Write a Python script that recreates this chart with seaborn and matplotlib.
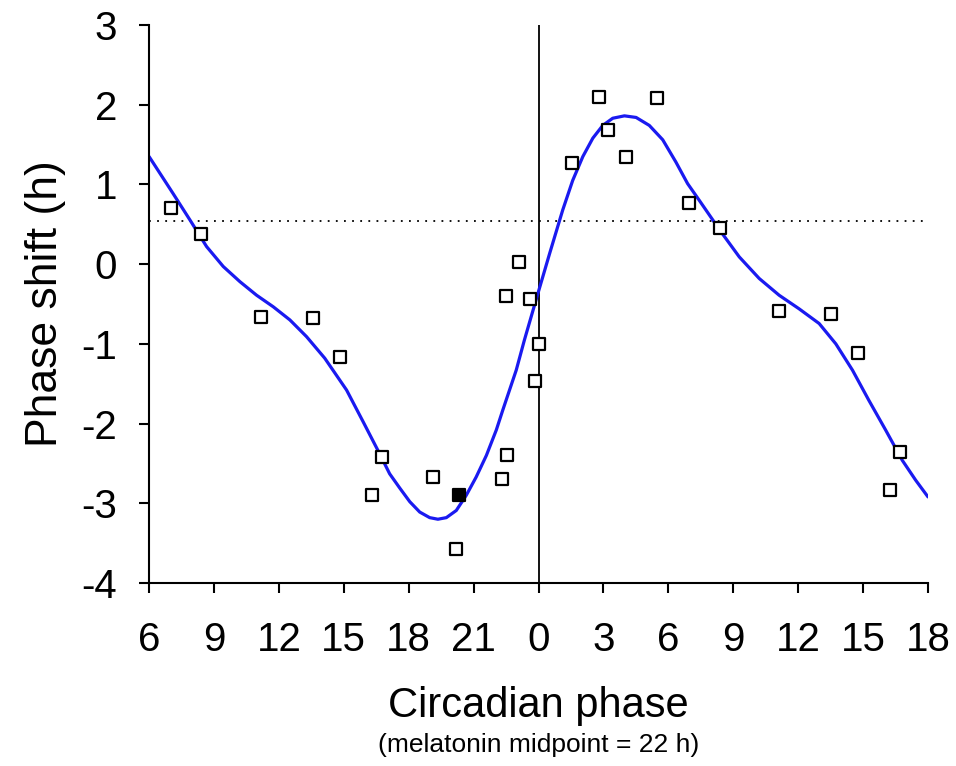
import numpy as np
import pandas as pd
import seaborn as sns
import matplotlib.pyplot as plt

# hours relative to 0 (left side = previous day), fitted curve
curve_hours = [-18.0, -16.9, -16.1, -15.34, -14.57, -13.8, -13.03, -12.26, -11.49, -10.72,
               -9.88, -8.87, -8.10, -7.34, -6.88, -6.41, -5.95, -5.49, -5.03, -4.65,
               -4.26, -3.80, -3.34, -2.88, -2.41, -1.95, -1.65, -1.03, -0.65, -0.03,
               0.51, 1.12, 1.58, 2.05, 2.51, 2.97, 3.43, 3.97, 4.51, 5.12,
               5.74, 6.35, 6.89, 7.43, 8.42, 9.28, 10.2, 11.12, 12.04, 12.97,
               13.74, 14.51, 15.27, 16.04, 16.81, 17.43, 18.0]
curve_shift = [1.35, 0.89, 0.55, 0.22, -0.03, -0.22, -0.39, -0.535, -0.70, -0.91,
               -1.18, -1.58, -1.98, -2.38, -2.63, -2.81, -2.98, -3.11, -3.18, -3.20,
               -3.18, -3.09, -2.90, -2.67, -2.40, -2.08, -1.83, -1.33, -0.95, -0.37,
               0.13, 0.68, 1.05, 1.35, 1.58, 1.74, 1.83, 1.86, 1.84, 1.74,
               1.56, 1.28, 1.01, 0.80, 0.41, 0.09, -0.18, -0.39, -0.56, -0.745,
               -1.0, -1.33, -1.71, -2.08, -2.46, -2.71, -2.92]

# individual subjects (open squares, double plotted)
point_hours = [-17.0, -15.6, -12.81, -10.42, -9.18, -7.23, -7.69, -4.88, -3.80,
               -1.46, -1.68, -1.52, -0.91, -0.415, 0.0, -0.14,
               1.55, 2.78, 3.23, 4.05, 5.48, 6.94, 8.39,
               11.12, 13.52, 14.77, 16.70, 16.24]
point_shift = [0.71, 0.38, -0.665, -0.68, -1.17, -2.42, -2.89, -2.67, -3.57,
               -2.40, -2.70, -0.40, 0.025, -0.44, -1.00, -1.47,
               1.27, 2.10, 1.68, 1.35, 2.08, 0.77, 0.455,
               -0.59, -0.62, -1.11, -2.36, -2.83]

# filled square
special_hours = [-3.68]
special_shift = [-2.89]

threshold = 0.54

tick_pos = [-18, -15, -12, -9, -6, -3, 0, 3, 6, 9, 12, 15, 18]
tick_labels = ["6", "9", "12", "15", "18", "21", "0", "3", "6", "9", "12", "15", "18"]

sns.set_theme(style="ticks")
plt.rcParams['font.family'] = ['Liberation Sans', 'DejaVu Sans']
plt.rcParams['axes.unicode_minus'] = False

fig = plt.figure(figsize=(9.56, 7.66), dpi=100)
ax = fig.add_axes([0.1559, 0.2389, 0.8148, 0.7285])

curve = pd.DataFrame({"hora": curve_hours, "shift": curve_shift})
pts = pd.DataFrame({"hora": point_hours, "shift": point_shift})
esp = pd.DataFrame({"hora": special_hours, "shift": special_shift})

ax.axvline(0, color="black", lw=1.3, zorder=1)
ax.axhline(threshold, color="black", lw=1.3, ls=(0, (1, 3.5)), zorder=1)

sns.lineplot(data=curve, x="hora", y="shift", color="#1a1af0", lw=2.3, ax=ax, zorder=2)
sns.scatterplot(data=pts, x="hora", y="shift", marker="s", s=64, facecolor="white",
                edgecolor="black", linewidth=1.6, ax=ax, zorder=3)
sns.scatterplot(data=esp, x="hora", y="shift", marker="s", s=64, facecolor="black",
                edgecolor="black", linewidth=1.6, ax=ax, zorder=3)

ax.set_xlim(-18, 18)
ax.set_ylim(-4, 3)
ax.set_xticks(tick_pos)
ax.set_xticklabels(tick_labels)
ax.set_yticks(range(-4, 4))
ax.tick_params(axis="both", direction="out", length=7, width=1.5, labelsize=29,
               colors="black", labelcolor="black")
ax.tick_params(axis="x", pad=20)
ax.tick_params(axis="y", pad=16)
for s in ["left", "bottom"]:
    ax.spines[s].set_linewidth(1.5)
    ax.spines[s].set_color("black")
sns.despine(ax=ax)

ax.set_xlabel("")
ax.set_ylabel("Phase shift (h)", fontsize=32, labelpad=11, color="black")
fig.text(0.5633, 0.078, "Circadian phase", fontsize=30, ha="center", va="center", color="black")
fig.text(0.5633, 0.027, "(melatonin midpoint = 22 h)", fontsize=19, ha="center", va="center",
         color="black")

plt.savefig("out.png", dpi=100)
plt.close('all')
